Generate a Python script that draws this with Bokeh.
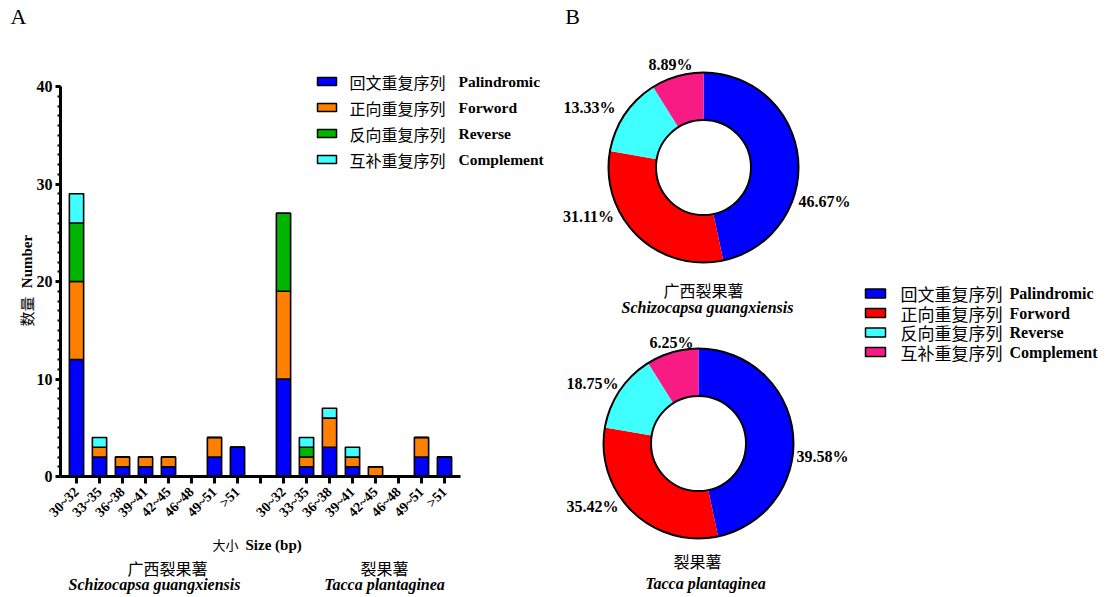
import math
from bokeh.plotting import figure
from bokeh.models import (Range1d, FixedTicker, SingleIntervalTicker, Label,
                          LinearAxis, ColumnDataSource)
from bokeh.embed import file_html
from bokeh.resources import INLINE

# ---------------- data ----------------
size_classes = ["30~32", "33~35", "36~38", "39~41", "42~45", "46~48", "49~51", ">51"]
repeat_types = ["Palindromic", "Forword", "Reverse", "Complement"]
repeat_types_cn = ["回文重复序列", "正向重复序列", "反向重复序列", "互补重复序列"]

# Schizocapsa guangxiensis (广西裂果薯)
sg_palindromic = [12, 2, 1, 1, 1, 0, 2, 3]
sg_forword     = [8, 1, 1, 1, 1, 0, 2, 0]
sg_reverse     = [6, 0, 0, 0, 0, 0, 0, 0]
sg_complement  = [3, 1, 0, 0, 0, 0, 0, 0]

# Tacca plantaginea (裂果薯)
tp_palindromic = [10, 1, 3, 1, 0, 0, 2, 2]
tp_forword     = [9, 1, 3, 1, 1, 0, 2, 0]
tp_reverse     = [8, 1, 0, 0, 0, 0, 0, 0]
tp_complement  = [0, 1, 1, 1, 0, 0, 0, 0]

# donut percentage labels (Palindromic, Forword, Reverse, Complement)
sg_percent = [46.67, 31.11, 13.33, 8.89]
tp_percent = [39.58, 35.42, 18.75, 6.25]
# slice sizes as drawn in the picture (the lower donut is drawn with the same shape as the upper)
sg_slice = [46.67, 31.11, 13.33, 8.89]
tp_slice = [46.7, 31.0, 13.4, 8.9]

species_cn = ["广西裂果薯", "裂果薯"]
species_latin = ["Schizocapsa guangxiensis", "Tacca plantaginea"]

# ---------------- styles ----------------
SERIF = "Liberation Serif"
CJK = "Noto Sans CJK SC"
bar_colors = ["#0000FF", "#FF8000", "#00B400", "#40FFFF"]
pie_colors = ["#0000FF", "#FF0000", "#40FFFF", "#F81B84"]

W, H = 1106, 597

def py(Y):
    """page pixel row -> canvas coordinate (y up)"""
    return H - Y

fig = figure(width=W, height=H, title=None, output_backend="svg", toolbar_location=None,
             x_range=Range1d(0, W), y_range=Range1d(0, H),
             x_axis_location=None, y_axis_location=None, min_border=0)
fig.xgrid.visible = False
fig.ygrid.visible = False
fig.outline_line_color = None
fig.background_fill_color = "white"
fig.border_fill_color = "white"

# ---------------- panel A : stacked bars ----------------
# bar-chart scales: slot i centred at page x = 76 + 23*i ; count c at page y = 476 - 9.75*c
X0, DX = 76, 23
Y0, DY = 476, 9.75
fig.extra_x_ranges = {"bx": Range1d((0 - X0) / DX, (W - X0) / DX)}
fig.extra_y_ranges = {"by": Range1d((Y0 - H) / DY, Y0 / DY)}

n = len(size_classes)
x_pos = list(range(n)) + [n + 1 + i for i in range(n)]
src = ColumnDataSource(dict(
    x=x_pos,
    Palindromic=sg_palindromic + tp_palindromic,
    Forword=sg_forword + tp_forword,
    Reverse=sg_reverse + tp_reverse,
    Complement=sg_complement + tp_complement,
))
fig.vbar_stack(repeat_types, x="x", width=0.62, color=bar_colors, line_color="black",
               line_width=1.6, source=src, x_range_name="bx", y_range_name="by")

XL, XR = -0.7, 2 * n + 0.7

yaxis = LinearAxis(x_range_name="bx", y_range_name="by", fixed_location=XL, bounds=(0, 40),
                   ticker=SingleIntervalTicker(interval=10, num_minor_ticks=10))
yaxis.axis_line_width = 3
yaxis.major_tick_line_width = 3
yaxis.major_tick_out = 5
yaxis.major_tick_in = 0
yaxis.minor_tick_line_width = 2
yaxis.minor_tick_out = 3
yaxis.minor_tick_in = 0
yaxis.major_label_text_font = SERIF
yaxis.major_label_text_font_style = "bold"
yaxis.major_label_text_font_size = "16px"
yaxis.major_label_text_color = "black"
yaxis.major_label_standoff = 3
fig.add_layout(yaxis, "left")

overrides = {}
for i, lab_ in enumerate(size_classes):
    overrides[i] = lab_
    overrides[n + 1 + i] = lab_
overrides[n] = ""
xaxis = LinearAxis(x_range_name="bx", y_range_name="by", fixed_location=0, bounds=(XL, XR),
                   ticker=FixedTicker(ticks=list(range(2 * n + 1)), minor_ticks=[]))
xaxis.major_label_overrides = overrides
xaxis.axis_line_width = 3
xaxis.major_tick_line_width = 3
xaxis.major_tick_out = 7
xaxis.major_tick_in = 0
xaxis.minor_tick_line_color = None
xaxis.major_label_orientation = math.pi / 4
xaxis.major_label_text_font = SERIF
xaxis.major_label_text_font_style = "bold"
xaxis.major_label_text_font_size = "14px"
xaxis.major_label_text_color = "black"
xaxis.major_label_standoff = 6
fig.add_layout(xaxis, "below")


def lab(X, Y, text, font, size, style="normal", align="center", angle=0.0):
    fig.add_layout(Label(x=X, y=py(Y), text=text, text_font=font, text_font_size=size,
                         text_font_style=style, text_align=align, text_baseline="middle",
                         angle=angle, text_color="black"))

# panel letters
lab(18, 16, "A", SERIF, "22px")
lab(572, 16, "B", SERIF, "22px")

# y axis title
lab(26, 261, "Number", SERIF, "15px", "bold", angle=math.pi / 2)
lab(26, 311, "数量", CJK, "15px", angle=math.pi / 2)

# x axis title
lab(212, 544, "大小", CJK, "13px", align="left")
lab(245, 544, "Size (bp)", SERIF, "15px", "bold", align="left")

# group captions
lab(167, 567, species_cn[0], CJK, "16px")
lab(154, 584, species_latin[0], SERIF, "16px", "bold italic")
lab(384, 567, species_cn[1], CJK, "16px")
lab(384, 584, species_latin[1], SERIF, "16px", "bold italic")

# legend A
rowsA = [81, 107, 133, 159]
fig.rect(x=[326.5] * 4, y=[py(Y) for Y in rowsA], width=19, height=8,
         fill_color=bar_colors, line_color="black", line_width=1.5)
for k in range(4):
    lab(349, rowsA[k], repeat_types_cn[k], CJK, "16px", align="left")
    lab(458, rowsA[k], repeat_types[k], SERIF, "15.5px", "bold", align="left")

# ---------------- panel B : donuts ----------------
R_OUT, R_IN = 95, 47.5
centers = [(703, 167), (698, 443)]
percents = [sg_percent, tp_percent]
slices = [sg_slice, tp_slice]
label_pos = [
    [(824, 201), (588, 216), (589, 107), (670, 64)],
    [(822, 456), (592, 506), (592, 383), (671, 342)],
]

for s in range(2):
    cx, cy = centers[s][0], py(centers[s][1])
    vals = slices[s]
    total = sum(vals)
    cum = 0.0
    starts, ends = [], []
    for v in vals:
        a_top = math.pi / 2 - 2 * math.pi * cum / total
        a_bot = math.pi / 2 - 2 * math.pi * (cum + v) / total
        starts.append(a_bot)
        ends.append(a_top)
        cum += v
    ds = ColumnDataSource(dict(x=[cx] * 4, y=[cy] * 4, start=starts, end=ends,
                               color=pie_colors))
    fig.annular_wedge(x="x", y="y", inner_radius=R_IN, outer_radius=R_OUT,
                      start_angle="start", end_angle="end", fill_color="color",
                      line_color=None, source=ds)
    fig.circle(x=[cx], y=[cy], radius=R_OUT, fill_color=None, line_color="black", line_width=2)
    fig.circle(x=[cx], y=[cy], radius=R_IN, fill_color=None, line_color="black", line_width=2)
    for k in range(4):
        X, Y = label_pos[s][k]
        lab(X, Y, f"{percents[s][k]:.2f}%", SERIF, "16px", "bold")

caps = [((703, 289), (707, 307)), ((697, 560), (705, 583))]
for s in range(2):
    (X1, Y1), (X2, Y2) = caps[s]
    lab(X1, Y1, species_cn[s], CJK, "16px")
    lab(X2, Y2, species_latin[s], SERIF, "16px", "bold italic")

# legend B
rowsB = [293, 312.5, 332, 351.5]
fig.rect(x=[875] * 4, y=[py(Y) for Y in rowsB], width=20, height=9, fill_color=pie_colors,
         line_color="black", line_width=1.5)
for k in range(4):
    lab(900, rowsB[k], repeat_types_cn[k], CJK, "17px", align="left")
    lab(1009, rowsB[k], repeat_types[k], SERIF, "16px", "bold", align="left")

with open("out.html", "w") as f:
    f.write(file_html(fig, INLINE))
